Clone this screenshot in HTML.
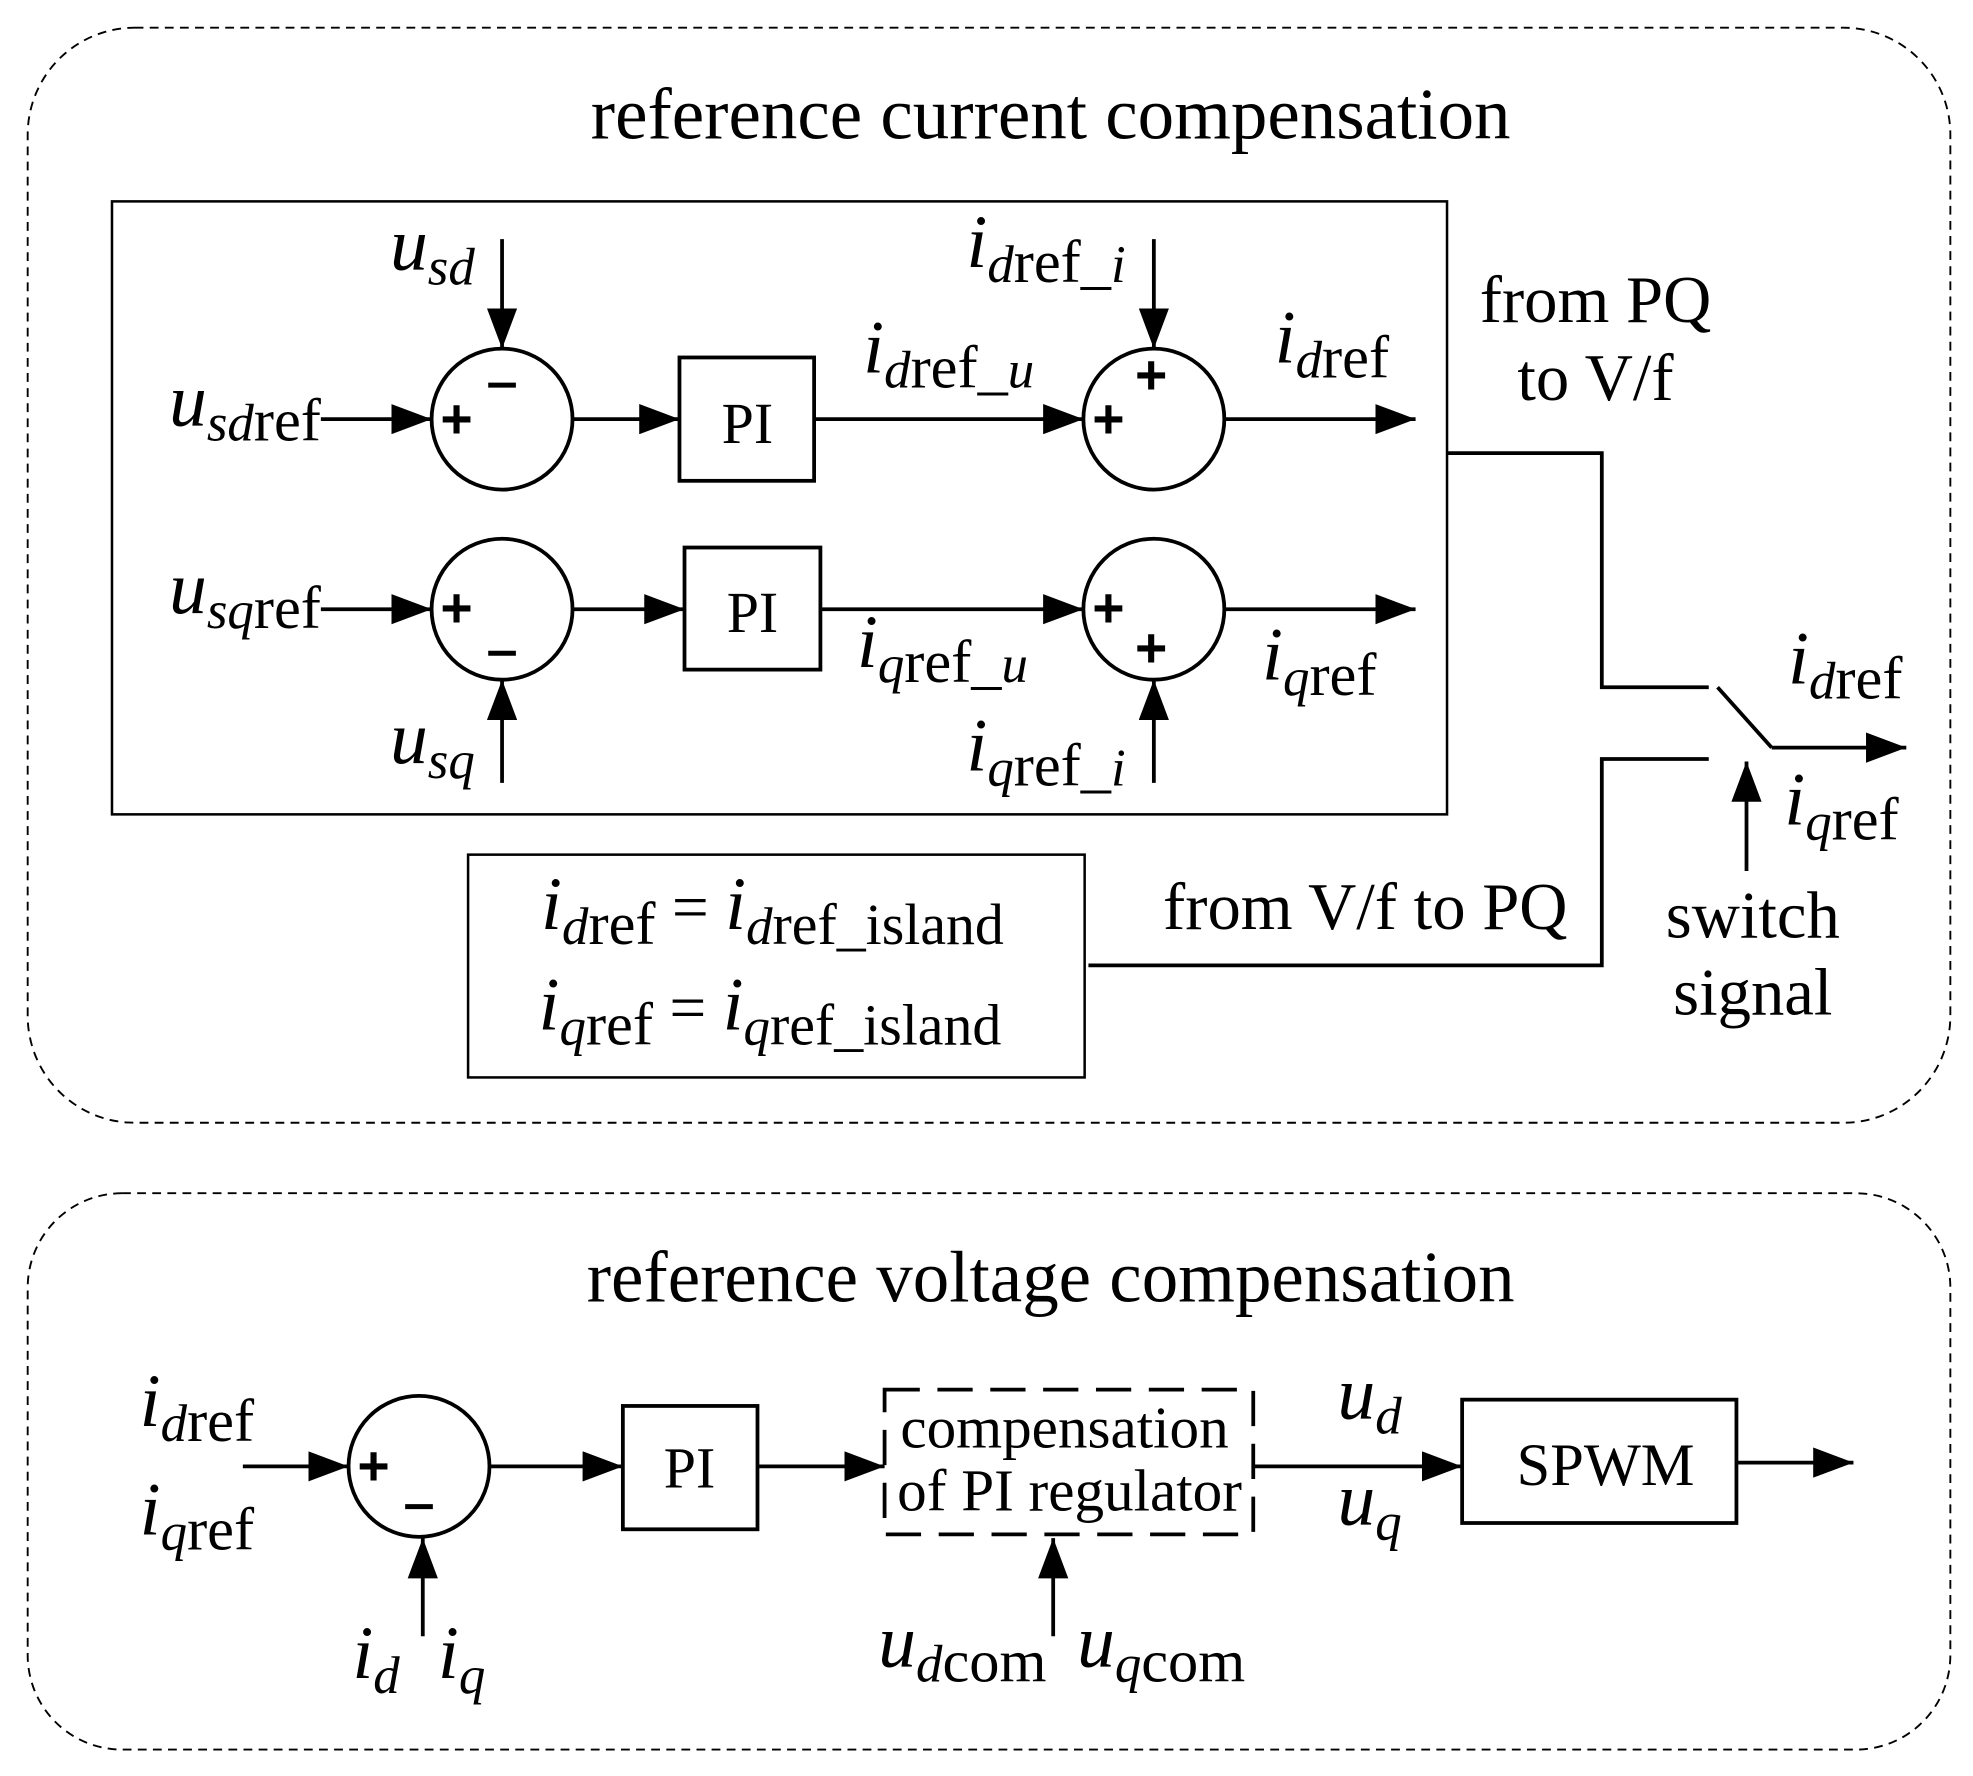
<!DOCTYPE html>
<html><head><meta charset="utf-8"><style>html,body{margin:0;padding:0;background:#fff}svg{display:block}</style></head>
<body>
<svg width="1973" height="1776" viewBox="0 0 1568 1411" preserveAspectRatio="none" xmlns="http://www.w3.org/2000/svg" font-family="'Liberation Serif', serif">
<defs><marker id="b" markerWidth="32" markerHeight="24" refX="32" refY="12" orient="auto" markerUnits="userSpaceOnUse"><path d="M0,0 L32,12 L0,24z" fill="#000"/></marker></defs>
<g fill="none" stroke="#000">
<rect x="22" y="22" width="1528" height="870" rx="85" stroke-width="1.5" stroke-dasharray="7,5"/>
<rect x="22" y="948" width="1528" height="442" rx="75" stroke-width="1.5" stroke-dasharray="7,5"/>
<rect x="89" y="160" width="1061" height="487" stroke-width="2"/>
<rect x="372" y="679" width="490" height="177" stroke-width="2"/>
<g stroke-width="3">
<circle cx="399" cy="333" r="56"/><circle cx="399" cy="484" r="56"/>
<circle cx="917" cy="333" r="56"/><circle cx="917" cy="484" r="56"/>
<circle cx="333" cy="1165" r="56"/>
<rect x="540" y="284" width="107" height="98"/><rect x="544" y="435" width="108" height="97"/>
<rect x="495" y="1117" width="107" height="98"/><rect x="1162" y="1112" width="218" height="98"/>
<rect x="703" y="1104" width="293" height="115" stroke-dasharray="28,14"/>
<g marker-end="url(#b)">
<line x1="255" y1="333" x2="343" y2="333"/><line x1="455" y1="333" x2="540" y2="333"/>
<line x1="647" y1="333" x2="861" y2="333"/><line x1="973" y1="333" x2="1125" y2="333"/>
<line x1="255" y1="484" x2="343" y2="484"/><line x1="455" y1="484" x2="544" y2="484"/>
<line x1="652" y1="484" x2="861" y2="484"/><line x1="973" y1="484" x2="1125" y2="484"/>
<line x1="399" y1="190" x2="399" y2="277"/><line x1="399" y1="622" x2="399" y2="540"/>
<line x1="917" y1="190" x2="917" y2="277"/><line x1="917" y1="622" x2="917" y2="540"/>
<line x1="1408" y1="594" x2="1515" y2="594"/><line x1="1388" y1="692" x2="1388" y2="605"/>
<line x1="193" y1="1165" x2="277" y2="1165"/><line x1="336" y1="1300" x2="336" y2="1222"/>
<line x1="389" y1="1165" x2="495" y2="1165"/><line x1="602" y1="1165" x2="703" y2="1165"/>
<line x1="996" y1="1165" x2="1162" y2="1165"/><line x1="837" y1="1300" x2="837" y2="1222"/>
<line x1="1380" y1="1162" x2="1473" y2="1162"/>
</g>
<polyline points="1150,360 1273,360 1273,546 1358,546"/>
<polyline points="1358,603 1273,603 1273,767 865,767"/>
<line x1="1365" y1="546" x2="1408" y2="594"/>
</g></g>
<g font-size="58" text-anchor="middle">
<text x="835" y="110">reference current compensation</text>
<text x="835" y="1034">reference voltage compensation</text>
</g>
<g font-size="46">
<text x="594" y="352" text-anchor="middle">PI</text><text x="598" y="502" text-anchor="middle">PI</text>
<text x="548" y="1182" text-anchor="middle">PI</text><text x="1276" y="1180" text-anchor="middle" font-size="48">SPWM</text>
<text x="846" y="1150" text-anchor="middle" font-size="47">compensation</text><text x="850" y="1200" text-anchor="middle" font-size="47">of PI regulator</text>
<text x="1268" y="256" text-anchor="middle" font-size="53">from PQ</text>
<text x="1268" y="318" text-anchor="middle" font-size="53">to V/f</text>
<text x="1085" y="738" text-anchor="middle" font-size="53">from V/f to PQ</text>
<text x="1393" y="745" text-anchor="middle" font-size="53">switch</text>
<text x="1393" y="806" text-anchor="middle" font-size="53">signal</text>
</g>
<g font-size="44" font-weight="bold" font-family="'Liberation Sans',sans-serif">
<text x="350" y="348">+</text>
<text x="350" y="498">+</text>
<text x="868" y="348">+</text><text x="902" y="313">+</text>
<text x="868" y="498">+</text><text x="902" y="530">+</text>
<text x="284" y="1180">+</text>
</g>
<g stroke="#000" stroke-width="4">
<line x1="388" y1="306" x2="410" y2="306"/>
<line x1="388" y1="519" x2="410" y2="519"/>
<line x1="322" y1="1197" x2="344" y2="1197"/>
</g>
<g font-size="60" font-style="italic">
<text x="310" y="214">u<tspan font-size="42" dy="12">sd</tspan></text>
<text x="255" y="338" text-anchor="end">u<tspan font-size="42" dy="12">sd</tspan><tspan font-style="normal" font-size="48">ref</tspan></text>
<text x="255" y="487" text-anchor="end">u<tspan font-size="42" dy="12">sq</tspan><tspan font-style="normal" font-size="48">ref</tspan></text>
<text x="310" y="606">u<tspan font-size="42" dy="12">sq</tspan></text>
<text x="768" y="212">i<tspan font-size="42" dy="12">d</tspan><tspan font-style="normal" font-size="48">ref_</tspan><tspan font-size="42">i</tspan></text>
<text x="686" y="296">i<tspan font-size="42" dy="12">d</tspan><tspan font-style="normal" font-size="48">ref_</tspan><tspan font-size="42">u</tspan></text>
<text x="1013" y="288">i<tspan font-size="42" dy="12">d</tspan><tspan font-style="normal" font-size="48">ref</tspan></text>
<text x="681" y="530">i<tspan font-size="42" dy="12">q</tspan><tspan font-style="normal" font-size="48">ref_</tspan><tspan font-size="42">u</tspan></text>
<text x="1003" y="540">i<tspan font-size="42" dy="12">q</tspan><tspan font-style="normal" font-size="48">ref</tspan></text>
<text x="768" y="612">i<tspan font-size="42" dy="12">q</tspan><tspan font-style="normal" font-size="48">ref_</tspan><tspan font-size="42">i</tspan></text>
<text x="1421" y="543">i<tspan font-size="42" dy="12">d</tspan><tspan font-style="normal" font-size="48">ref</tspan></text>
<text x="1418" y="655">i<tspan font-size="42" dy="12">q</tspan><tspan font-style="normal" font-size="48">ref</tspan></text>
<text x="430" y="738">i<tspan font-size="42" dy="12">d</tspan><tspan font-style="normal" font-size="48">ref</tspan><tspan font-style="normal" dy="-12" font-size="52"> = </tspan>i<tspan font-size="42" dy="12">d</tspan><tspan font-style="normal" font-size="46">ref_island</tspan></text>
<text x="428" y="818">i<tspan font-size="42" dy="12">q</tspan><tspan font-style="normal" font-size="48">ref</tspan><tspan font-style="normal" dy="-12" font-size="52"> = </tspan>i<tspan font-size="42" dy="12">q</tspan><tspan font-style="normal" font-size="46">ref_island</tspan></text>
<text x="111" y="1133">i<tspan font-size="42" dy="12">d</tspan><tspan font-style="normal" font-size="48">ref</tspan></text>
<text x="111" y="1219">i<tspan font-size="42" dy="12">q</tspan><tspan font-style="normal" font-size="48">ref</tspan></text>
<text x="280" y="1333">i<tspan font-size="42" dy="12">d</tspan></text>
<text x="348" y="1333">i<tspan font-size="42" dy="12">q</tspan></text>
<text x="1063" y="1127">u<tspan font-size="42" dy="12">d</tspan></text>
<text x="1063" y="1211">u<tspan font-size="42" dy="12">q</tspan></text>
<text x="698" y="1324">u<tspan font-size="42" dy="12">d</tspan><tspan font-style="normal" font-size="48">com</tspan></text>
<text x="856" y="1324">u<tspan font-size="42" dy="12">q</tspan><tspan font-style="normal" font-size="48">com</tspan></text>
</g>
</svg>
</body></html>
